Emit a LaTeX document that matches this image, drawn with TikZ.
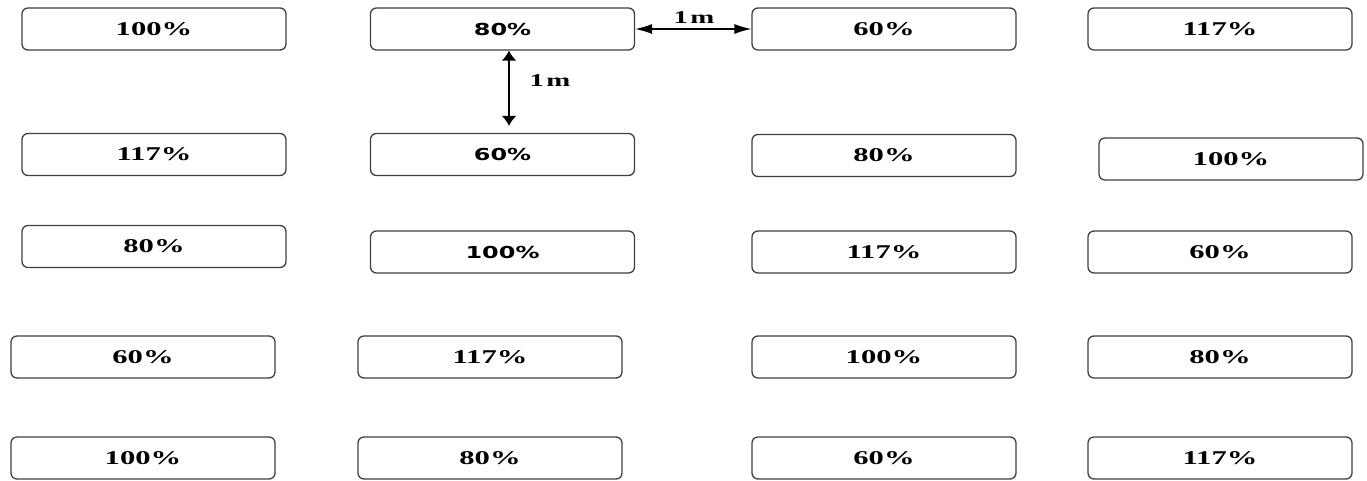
\documentclass[tikz,border=0pt]{standalone}
\usepackage{fontspec}
\usepackage{graphicx}
\setmainfont{Liberation Serif}
\newfontfamily\boxsans{DejaVu Sans}
\usetikzlibrary{arrows.meta}

% wide bold labels used inside the plots
\newcommand{\pserif}[1]{\scalebox{1.57}[1]{\fontsize{19.5}{20}\selectfont\bfseries #1}}
\newcommand{\psans}[1]{\scalebox{1.45}[1]{\fontsize{16.5}{17}\selectfont\boxsans\bfseries #1}}
\newcommand{\dist}[1]{\scalebox{1.6}[1]{\fontsize{18}{18}\selectfont\bfseries #1}}

\tikzset{
  plot/.style={draw=black!75, line width=1.3pt, rounded corners=6pt,
    minimum width=264pt, minimum height=42pt, inner sep=0pt, text=black},
  hgap/.style={<->, line width=1.3pt, >={Latex[length=17pt,width=10pt]}},
  vgap/.style={<->, line width=1.8pt, >={Latex[length=10pt,width=15pt]}},
}

\begin{document}
\begin{tikzpicture}[x=1pt,y=-1pt]
\useasboundingbox[fill=white] (0,0) rectangle (1367,480);

% row 1
\node[plot] (r1a) at (154,29)  {\pserif{100\%}};
\node[plot] (r1b) at (502.5,29) {\psans{80\%}};
\node[plot] (r1c) at (884,29)  {\pserif{60\%}};
\node[plot] (r1d) at (1220,29) {\pserif{117\%}};

% row 2
\node[plot] (r2a) at (154,154.5)  {\pserif{117\%}};
\node[plot] (r2b) at (502.5,154.5) {\psans{60\%}};
\node[plot] (r2c) at (884,155.5)  {\pserif{80\%}};
\node[plot] (r2d) at (1231,159)   {\pserif{100\%}};

% row 3
\node[plot] (r3a) at (154,246.5)  {\pserif{80\%}};
\node[plot] (r3b) at (502.5,252)  {\psans{100\%}};
\node[plot] (r3c) at (884,252)    {\pserif{117\%}};
\node[plot] (r3d) at (1220,252)   {\pserif{60\%}};

% row 4
\node[plot] (r4a) at (143,357)  {\pserif{60\%}};
\node[plot] (r4b) at (490,357)  {\pserif{117\%}};
\node[plot] (r4c) at (884,357)  {\pserif{100\%}};
\node[plot] (r4d) at (1220,357) {\pserif{80\%}};

% row 5
\node[plot] (r5a) at (143,458)  {\pserif{100\%}};
\node[plot] (r5b) at (490,458)  {\pserif{80\%}};
\node[plot] (r5c) at (884,458)  {\pserif{60\%}};
\node[plot] (r5d) at (1220,458) {\pserif{117\%}};

% spacing between neighbouring plots
\draw[hgap] (r1b.east) -- (r1c.west);
\node[inner sep=0pt] (hlab) at (694,18) {\dist{1\kern1.5pt m}};

\coordinate (vx) at (509,0);
\draw[vgap, shorten >=7pt] (vx |- r1b.south) -- (vx |- r2b.north);
\node[inner sep=0pt] (vlab) at (550,81) {\dist{1\kern1.5pt m}};
\end{tikzpicture}
\end{document}
